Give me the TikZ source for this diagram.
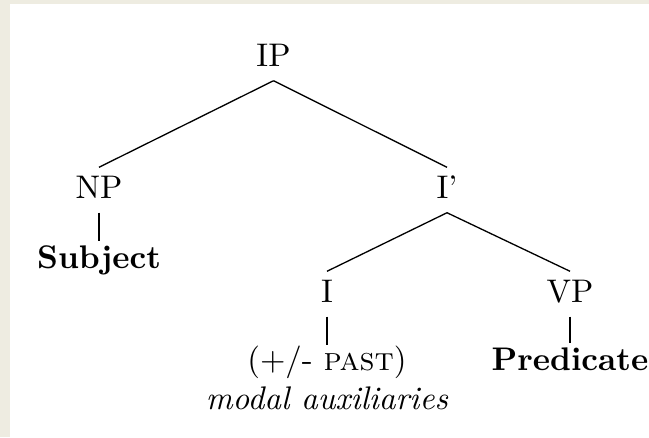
\documentclass[tikz,border=0pt]{standalone}
\usepackage[dvipsnames]{xcolor}
\usepackage{tikz}

\definecolor{sfondo}{HTML}{EEECE1}

\begin{document}
\begin{tikzpicture}[x=0.3058pt, y=-0.3058pt,
		cat/.style={inner sep=0pt, text height=9.2pt, text depth=4.3pt, anchor=base},
		leaf/.style={inner sep=0pt, text height=8pt, anchor=base}]
		% Sfondo
		\useasboundingbox (0,0) rectangle (649,437);
		\fill[sfondo] (0,0) rectangle (649,437);
		\fill[white] (10,4) rectangle (649,437);
		
		% Definizione dei nodi
		\node[cat] (IP) at (273.5,66) {IP};
		\node[cat] (NP) at (99,198) {NP};
		\node[cat] (Ibar) at (447,198) {I'};
		\node[cat] (I) at (327,302) {I};
		\node[cat] (VP) at (570,302) {VP};
		\node[leaf, font=\bfseries] (Subject) at (99,268) {Subject};
		\node[inner sep=0pt, anchor=north, align=center] (Past) at (327,345) {(+/- \textsc{past})\\ \textit{modal auxiliaries}};
		\node[leaf, font=\bfseries] (Predicate) at (570,370) {Predicate};
		
		% Collegamenti
		\draw (IP.south) -- (NP.north);
		\draw (IP.south) -- (Ibar.north);
		\draw (Ibar.south) -- (I.north);
		\draw (Ibar.south) -- (VP.north);
		\draw (NP.south) -- (Subject.north);
		\draw (I.south) -- (Past.north);
		\draw (VP.south) -- (Predicate.north);
	\end{tikzpicture}
\end{document}
